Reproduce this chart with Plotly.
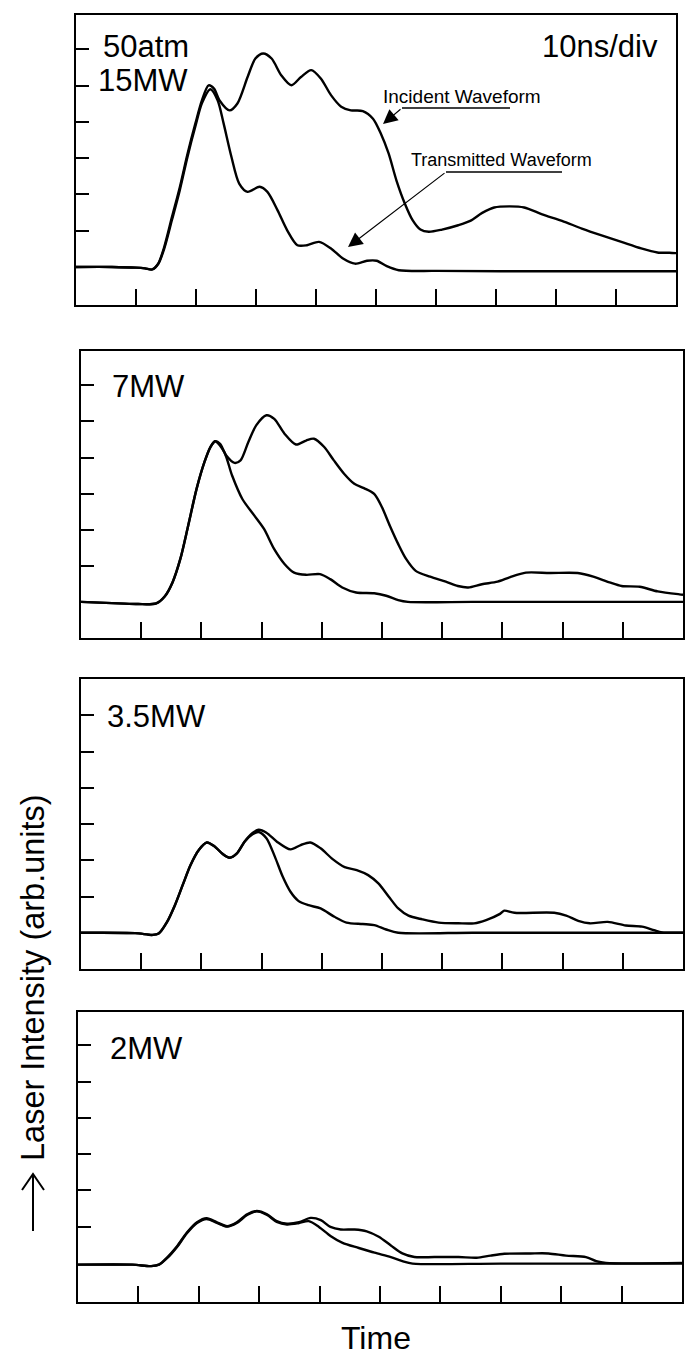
import plotly.graph_objects as go

W, H = 685, 1372

# ---- data: time in divisions (10 ns/div), intensity in tick units (arb.) ----
p1_inc_t = [0, 0.6, 1.0, 1.15, 1.27, 1.37, 1.47, 1.6, 1.73, 1.86, 1.99, 2.1, 2.21, 2.3, 2.39, 2.56, 2.69, 2.86, 2.99, 3.12, 3.26, 3.42, 3.59, 3.75, 3.92, 4.08, 4.25, 4.42, 4.58, 4.78, 4.95, 5.08, 5.21, 5.34, 5.48, 5.61, 5.74, 5.88, 6.1, 6.37, 6.57, 6.77, 6.97, 7.23, 7.47, 7.77, 8.1, 8.43, 8.76, 9.09, 9.42, 9.69, 9.89, 10.0]
p1_inc_v = [0.0, 0.0, -0.02, -0.04, -0.07, 0.09, 0.55, 1.38, 2.2, 3.13, 3.96, 4.6, 5.01, 4.92, 4.6, 4.32, 4.51, 5.24, 5.75, 5.89, 5.75, 5.29, 5.01, 5.24, 5.43, 5.2, 4.74, 4.42, 4.32, 4.3, 4.09, 3.68, 3.13, 2.39, 1.75, 1.29, 1.03, 0.97, 1.03, 1.15, 1.27, 1.49, 1.64, 1.67, 1.64, 1.45, 1.27, 1.06, 0.87, 0.69, 0.51, 0.4, 0.39, 0.38]
p1_tra_t = [0, 0.6, 1.0, 1.15, 1.27, 1.37, 1.47, 1.6, 1.73, 1.86, 1.99, 2.1, 2.24, 2.36, 2.46, 2.59, 2.72, 2.86, 3.06, 3.19, 3.36, 3.52, 3.69, 3.85, 4.05, 4.25, 4.45, 4.65, 4.85, 5.01, 5.18, 5.38, 6.0, 8.0, 10.0]
p1_tra_v = [0.0, 0.0, -0.02, -0.04, -0.07, 0.08, 0.5, 1.3, 2.12, 3.05, 3.88, 4.52, 4.9, 4.6, 3.96, 3.04, 2.3, 2.07, 2.21, 2.07, 1.56, 1.01, 0.6, 0.6, 0.69, 0.51, 0.23, 0.09, 0.17, 0.17, 0.02, -0.09, -0.11, -0.12, -0.12]

p2_inc_t = [0, 0.62, 0.95, 1.25, 1.39, 1.52, 1.65, 1.78, 1.92, 2.05, 2.15, 2.23, 2.31, 2.41, 2.55, 2.65, 2.78, 2.91, 3.08, 3.21, 3.38, 3.57, 3.74, 3.87, 4.04, 4.2, 4.37, 4.54, 4.7, 4.87, 5.0, 5.13, 5.27, 5.4, 5.56, 5.8, 6.06, 6.26, 6.43, 6.66, 6.92, 7.12, 7.39, 7.79, 8.25, 8.51, 8.78, 8.98, 9.28, 9.58, 9.94, 10.0]
p2_inc_v = [0.0, -0.04, -0.06, -0.04, 0.15, 0.54, 1.19, 2.11, 3.13, 3.87, 4.29, 4.45, 4.38, 4.06, 3.85, 3.92, 4.43, 4.89, 5.17, 5.07, 4.66, 4.36, 4.47, 4.52, 4.29, 3.92, 3.55, 3.27, 3.15, 2.99, 2.62, 2.11, 1.6, 1.19, 0.86, 0.7, 0.56, 0.44, 0.4, 0.49, 0.56, 0.68, 0.81, 0.8, 0.8, 0.7, 0.54, 0.44, 0.42, 0.29, 0.21, 0.2]
p2_tra_t = [0, 0.62, 0.95, 1.25, 1.39, 1.52, 1.65, 1.78, 1.92, 2.05, 2.15, 2.23, 2.38, 2.51, 2.68, 2.88, 3.04, 3.21, 3.38, 3.54, 3.74, 3.97, 4.14, 4.34, 4.57, 4.87, 5.07, 5.27, 5.43, 6.5, 8.0, 10.0]
p2_tra_v = [0.0, -0.04, -0.06, -0.04, 0.15, 0.54, 1.19, 2.11, 3.13, 3.87, 4.29, 4.45, 4.15, 3.5, 2.85, 2.39, 2.02, 1.46, 1.05, 0.81, 0.75, 0.77, 0.63, 0.4, 0.26, 0.24, 0.17, 0.05, 0.0, 0.0, 0.0, 0.0]

p3_inc_t = [0, 0.9, 1.19, 1.29, 1.43, 1.56, 1.69, 1.82, 1.96, 2.09, 2.22, 2.35, 2.47, 2.59, 2.72, 2.85, 2.95, 3.08, 3.25, 3.48, 3.65, 3.81, 3.98, 4.18, 4.38, 4.58, 4.77, 4.94, 5.11, 5.27, 5.44, 5.67, 5.94, 6.27, 6.53, 6.73, 6.96, 7.03, 7.2, 7.86, 8.06, 8.26, 8.45, 8.75, 9.05, 9.32, 9.52, 9.65, 10.0]
p3_inc_v = [0.0, -0.01, -0.06, -0.02, 0.3, 0.76, 1.32, 1.87, 2.29, 2.49, 2.38, 2.18, 2.07, 2.19, 2.52, 2.75, 2.84, 2.76, 2.52, 2.3, 2.42, 2.49, 2.33, 2.03, 1.81, 1.73, 1.59, 1.36, 1.0, 0.67, 0.47, 0.37, 0.28, 0.26, 0.26, 0.35, 0.52, 0.61, 0.55, 0.55, 0.47, 0.33, 0.26, 0.3, 0.2, 0.17, 0.07, 0.01, 0.0]
p3_tra_t = [0, 0.9, 1.19, 1.29, 1.43, 1.56, 1.69, 1.82, 1.96, 2.09, 2.22, 2.35, 2.47, 2.59, 2.72, 2.85, 2.95, 3.08, 3.22, 3.35, 3.48, 3.61, 3.78, 3.98, 4.21, 4.41, 4.68, 4.87, 5.07, 5.27, 6.5, 8.0, 10.0]
p3_tra_v = [0.0, -0.01, -0.06, -0.02, 0.3, 0.76, 1.32, 1.87, 2.29, 2.49, 2.38, 2.18, 2.07, 2.19, 2.52, 2.72, 2.78, 2.61, 2.1, 1.55, 1.13, 0.88, 0.76, 0.67, 0.44, 0.28, 0.24, 0.21, 0.09, 0.0, 0.0, 0.0, 0.0]

p4_inc_t = [0, 0.9, 1.21, 1.34, 1.47, 1.64, 1.8, 1.97, 2.13, 2.3, 2.47, 2.63, 2.8, 2.96, 3.13, 3.29, 3.46, 3.66, 3.85, 4.02, 4.18, 4.35, 4.58, 4.78, 4.98, 5.18, 5.37, 5.57, 5.9, 6.3, 6.6, 6.83, 7.06, 7.49, 7.79, 8.08, 8.41, 8.58, 8.74, 10.0]
p4_inc_v = [-0.05, -0.05, -0.09, -0.05, 0.14, 0.46, 0.83, 1.12, 1.23, 1.12, 1.01, 1.12, 1.34, 1.43, 1.34, 1.15, 1.08, 1.12, 1.24, 1.18, 0.99, 0.92, 0.92, 0.87, 0.72, 0.48, 0.26, 0.16, 0.16, 0.16, 0.14, 0.2, 0.25, 0.26, 0.26, 0.2, 0.16, 0.05, 0.0, 0.0]
p4_tra_t = [0, 0.9, 1.21, 1.34, 1.47, 1.64, 1.8, 1.97, 2.13, 2.3, 2.47, 2.63, 2.8, 2.96, 3.13, 3.29, 3.46, 3.66, 3.82, 3.99, 4.18, 4.38, 4.65, 4.91, 5.18, 5.37, 5.54, 7.0, 10.0]
p4_tra_v = [-0.05, -0.05, -0.09, -0.05, 0.12, 0.44, 0.81, 1.1, 1.21, 1.1, 1.0, 1.1, 1.32, 1.42, 1.32, 1.13, 1.06, 1.1, 1.15, 0.99, 0.74, 0.55, 0.41, 0.28, 0.16, 0.05, -0.02, -0.02, -0.02]

x_ticks = [1, 2, 3, 4, 5, 6, 7, 8, 9]
y_ticks = [1, 2, 3, 4, 5, 6]
panel_labels = ["15MW", "7MW", "3.5MW", "2MW"]
pressure_label = "50atm"
scale_label = "10ns/div"
incident_label = "Incident Waveform"
transmitted_label = "Transmitted Waveform"
x_title = "Time"
y_title = "Laser Intensity (arb.units)"

# ---- layout geometry (pixels) ----
panels = [
    dict(inc=(p1_inc_t, p1_inc_v), tra=(p1_tra_t, p1_tra_v), x=(76, 676), y=(15, 305), yr=(-1.05, 6.95)),
    dict(inc=(p2_inc_t, p2_inc_v), tra=(p2_tra_t, p2_tra_v), x=(81, 683), y=(351, 638), yr=(-1.0, 6.95)),
    dict(inc=(p3_inc_t, p3_inc_v), tra=(p3_tra_t, p3_tra_v), x=(81, 683), y=(679, 969), yr=(-1.0, 7.0)),
    dict(inc=(p4_inc_t, p4_inc_v), tra=(p4_tra_t, p4_tra_v), x=(78, 682), y=(1012, 1302), yr=(-1.08, 6.92)),
]

def px(x):
    return x / W

def py(y):
    return 1 - y / H

fig = go.Figure()
layout = dict(
    width=W, height=H, margin=dict(l=0, r=0, t=0, b=0),
    paper_bgcolor="white", plot_bgcolor="white", showlegend=False,
    font=dict(family="Liberation Sans, Arial, sans-serif", color="black"),
)

line_style = dict(color="black", width=2.4, shape="spline", smoothing=0.8)
for i, p in enumerate(panels):
    n = "" if i == 0 else str(i + 1)
    for key in ("inc", "tra"):
        t, v = p[key]
        fig.add_trace(go.Scatter(x=t, y=v, mode="lines", line=line_style,
                                 xaxis="x" + n, yaxis="y" + n, hoverinfo="skip"))
    layout["xaxis" + n] = dict(
        domain=[px(p["x"][0]), px(p["x"][1])], range=[0, 10], anchor="y" + n,
        showgrid=False, zeroline=False, showline=True, mirror=True,
        linecolor="black", linewidth=1.7, ticks="inside", tickvals=x_ticks,
        ticklen=16, tickwidth=1.7, tickcolor="black", showticklabels=False,
        fixedrange=True,
    )
    layout["yaxis" + n] = dict(
        domain=[py(p["y"][1]), py(p["y"][0])], range=list(p["yr"]), anchor="x" + n,
        showgrid=False, zeroline=False, showline=True, mirror=True,
        linecolor="black", linewidth=1.7, ticks="inside", tickvals=y_ticks,
        ticklen=13, tickwidth=1.7, tickcolor="black", showticklabels=False,
        fixedrange=True,
    )

big = dict(size=31, color="black")
ann = [
    dict(text=pressure_label, x=px(101), y=py(46), xanchor="left", yanchor="middle", font=big),
    dict(text=panel_labels[0], x=px(96), y=py(81), xanchor="left", yanchor="middle", font=big),
    dict(text=panel_labels[1], x=px(110), y=py(387), xanchor="left", yanchor="middle", font=big),
    dict(text=panel_labels[2], x=px(105), y=py(716), xanchor="left", yanchor="middle", font=big),
    dict(text=panel_labels[3], x=px(108), y=py(1048), xanchor="left", yanchor="middle", font=big),
    dict(text=scale_label, x=px(660), y=py(46), xanchor="right", yanchor="middle", font=big),
    dict(text=incident_label, x=px(381), y=py(96), xanchor="left", yanchor="middle", font=dict(size=19)),
    dict(text=transmitted_label, x=px(409), y=py(160), xanchor="left", yanchor="middle", font=dict(size=18)),
    dict(text=x_title, x=px(376), y=py(1338), xanchor="center", yanchor="middle", font=dict(size=32)),
    dict(text=y_title, x=px(33), y=py(978), xanchor="center", yanchor="middle", textangle=-90, font=dict(size=32.5)),
    # pointer arrows
    dict(text="", x=px(383), y=py(124), ax=19, ay=-16, showarrow=True, arrowhead=2,
         arrowsize=2.4, arrowwidth=1.2, arrowcolor="black", xref="paper", yref="paper"),
    dict(text="", x=px(348), y=py(247), ax=98, ay=-75, showarrow=True, arrowhead=2,
         arrowsize=2.4, arrowwidth=1.2, arrowcolor="black", xref="paper", yref="paper"),
]
for a in ann:
    a.setdefault("xref", "paper")
    a.setdefault("yref", "paper")
    a.setdefault("showarrow", False)
layout["annotations"] = ann

lw = dict(color="black", width=1.3)
layout["shapes"] = [
    dict(type="line", xref="paper", yref="paper", x0=px(402), y0=py(108), x1=px(510), y1=py(108), line=lw),
    dict(type="line", xref="paper", yref="paper", x0=px(446), y0=py(172), x1=px(562), y1=py(172), line=lw),
    # upward arrow in front of the y title
    dict(type="line", xref="paper", yref="paper", x0=px(33), y0=py(1231), x1=px(33), y1=py(1175),
         line=dict(color="black", width=2)),
    dict(type="path", xref="paper", yref="paper",
         path=f"M {px(22)} {py(1190)} L {px(33)} {py(1174)} L {px(44)} {py(1190)}",
         line=dict(color="black", width=2)),
]

fig.update_layout(**layout)
fig.write_html("out.html")
